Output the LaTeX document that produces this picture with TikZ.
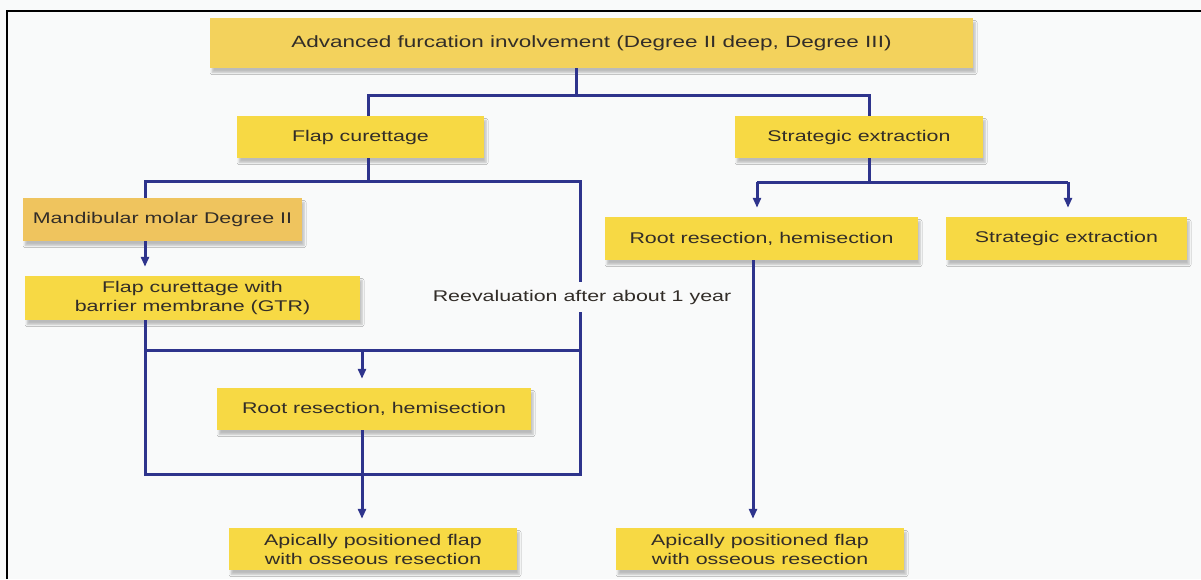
\documentclass[tikz,border=0pt]{standalone}
\usepackage{fontspec}
\setmainfont{Liberation Sans}[FakeStretch=1.38]
\usetikzlibrary{arrows.meta,shadows.blur}

\definecolor{navy}{RGB}{46,52,140}
\definecolor{boxyellow}{RGB}{247,217,68}
\definecolor{topyellow}{RGB}{243,210,92}
\definecolor{mandorange}{RGB}{239,196,94}
\definecolor{textgray}{RGB}{50,45,40}
\definecolor{paper}{RGB}{249,250,250}

\tikzset{
  box/.style={fill=boxyellow, text=textgray, inner sep=0pt, align=center,
    font=\fontsize{15.5}{19}\selectfont,
    blur shadow={shadow xshift=2pt, shadow yshift=-4.5pt, shadow blur radius=2pt,
      shadow blur steps=5, shadow opacity=25}},
  conn/.style={draw=navy, line width=3pt},
  arr/.style={conn, -{Triangle[length=10pt,width=8pt]}, shorten >=9pt}
}

\begin{document}
\begin{tikzpicture}[x=1pt,y=-1pt]
\useasboundingbox (0,0) rectangle (1201,579);
\fill[paper] (0,0) rectangle (1201,579);
\draw[line width=2pt] (7,579) -- (7,11) -- (1201,11);

% boxes
\node[box, fill=topyellow, font=\fontsize{16.3}{19}\selectfont, minimum width=763pt, minimum height=50pt]
  (top) at (591.5,43) {Advanced furcation involvement (Degree II deep, Degree III)};
\node[box, minimum width=247pt, minimum height=42pt] (flap) at (360.5,137) {Flap curettage};
\node[box, minimum width=248pt, minimum height=42pt] (strat) at (859,137) {Strategic extraction};
\node[box, fill=mandorange, minimum width=279pt, minimum height=43pt] (mand) at (162.5,219.5)
  {Mandibular molar Degree II};
\node[box, minimum width=335pt, minimum height=44pt] (gtr) at (192.5,298)
  {Flap curettage with\\barrier membrane (GTR)};
\node[box, minimum width=313pt, minimum height=43pt] (rootR) at (761.5,238.5) {Root resection, hemisection};
\node[box, minimum width=241pt, minimum height=43pt] (stratR) at (1066.5,238.5) {Strategic extraction};
\node[box, minimum width=314pt, minimum height=42pt] (rootM) at (374,409) {Root resection, hemisection};
\node[box, minimum width=288pt, minimum height=42pt] (apL) at (373,549)
  {Apically positioned flap\\with osseous resection};
\node[box, minimum width=288pt, minimum height=42pt] (apR) at (760,549)
  {Apically positioned flap\\with osseous resection};
\node[text=textgray, font=\fontsize{15.5}{19}\selectfont, inner sep=0pt, minimum height=30pt]
  (reeval) at (582,297) {Reevaluation after about 1 year};

% junctions
\coordinate (t0) at (576,95);
\coordinate (fl) at (368,95);
\coordinate (sl) at (869,95);
\coordinate (fb) at (368,181);
\coordinate (fL) at (145,181);
\coordinate (fR) at (580,181);
\coordinate (sb) at (869,182);
\coordinate (s1) at (757,182);
\coordinate (s2) at (1068,182);
\coordinate (mL) at (145,350);
\coordinate (mR) at (580,350);
\coordinate (ma) at (362,350);
\coordinate (bL) at (145,474);
\coordinate (bR) at (580,474);
\coordinate (rv) at (753,0);

% connectors
\draw[conn] (top.south -| t0) -- (t0);
\draw[conn] (flap.north -| fl) -- (fl) -- (sl) -- (strat.north -| sl);
\draw[conn] (flap.south -| fb) -- (fb);
\draw[conn] (mand.north -| fL) -- (fL) -- (fR) -- (reeval.north -| fR);
\draw[conn] (strat.south -| sb) -- (sb);
\draw[conn] (s1) -- (s2);
\draw[arr] (s1) -- (rootR.north -| s1);
\draw[arr] (s2) -- (stratR.north -| s2);
\draw[arr] (mand.south -| fL) -- (gtr.north -| fL);
\draw[conn] (gtr.south -| bL) -- (bL) -- (bR) -- (reeval.south -| bR);
\draw[conn] (mL) -- (mR);
\draw[arr] (ma) -- (rootM.north -| ma);
\draw[arr] (rootM.south -| ma) -- (apL.north -| ma);
\draw[arr] (rootR.south -| rv) -- (apR.north -| rv);
\end{tikzpicture}
\end{document}
